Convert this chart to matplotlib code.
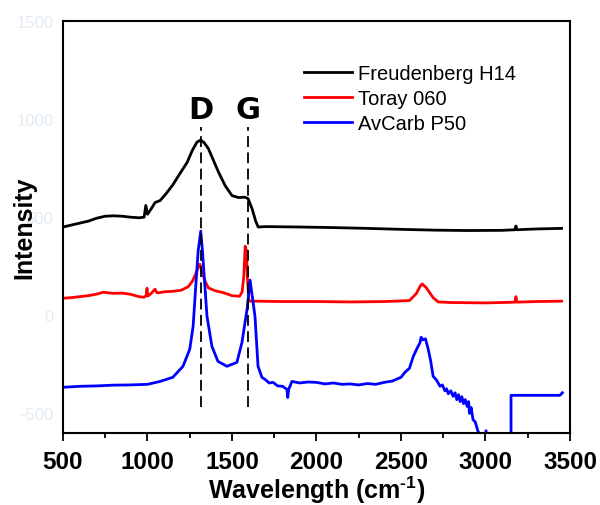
import numpy as np
import matplotlib
matplotlib.use('Agg')
import matplotlib.pyplot as plt

plt.rcParams['font.family'] = ['Liberation Sans', 'DejaVu Sans']
plt.rcParams['mathtext.fontset'] = 'custom'
plt.rcParams['mathtext.rm'] = 'Liberation Sans:bold'
plt.rcParams['mathtext.bf'] = 'Liberation Sans:bold'
plt.rcParams['axes.unicode_minus'] = False

# Freudenberg H14
x_black = [500, 550, 600, 650, 700, 750, 800, 850, 900, 950, 980, 990, 1000, 1020, 1045,
           1075, 1110, 1150, 1190, 1235, 1265, 1293, 1315, 1335, 1360, 1390, 1420, 1460,
           1500, 1540, 1575, 1595, 1620, 1640, 1655, 1700, 1900, 2100, 2300, 2500, 2700,
           2900, 3100, 3175, 3180, 3185, 3300, 3450]
y_black = [450, 460, 470, 480, 495, 505, 507, 505, 500, 497, 500, 560, 515, 540, 575,
           585, 620, 665, 720, 780, 840, 883, 893, 880, 850, 790, 730, 660,
           610, 600, 602, 595, 540, 480, 450, 452, 450, 447, 443, 438, 434,
           432, 433, 436, 455, 436, 440, 443]

# Toray 060
x_red = [500, 550, 600, 650, 700, 740, 760, 800, 850, 900, 950, 980, 992, 997, 1002,
         1020, 1045, 1055, 1070, 1100, 1150, 1200, 1240, 1265, 1285, 1300, 1310, 1320,
         1340, 1360, 1400, 1450, 1500, 1545, 1560, 1570, 1578, 1585, 1592, 1600, 1650,
         1800, 2000, 2200, 2400, 2550, 2590, 2615, 2625, 2650, 2690, 2720, 2800, 3000,
         3175, 3180, 3185, 3300, 3450]
y_red = [87, 90, 95, 100, 108, 118, 115, 112, 113, 107, 95, 92, 100, 138, 98,
         110, 133, 115, 115, 120, 122, 128, 145, 173, 210, 245, 260, 230,
         175, 140, 125, 115, 100, 97, 120, 200, 352, 330, 180, 72, 72,
         70, 70, 68, 70, 75, 110, 150, 160, 140, 90, 68, 65, 63,
         67, 95, 67, 70, 72]

# AvCarb P50 (gaps where the trace leaves the plot)
x_blue = [500, 600, 700, 800, 900, 1000, 1075, 1150, 1210, 1250, 1270, 1287, 1300, 1315,
          1325, 1352, 1381, 1417, 1470, 1529, 1559, 1589, 1607, 1636, 1654, 1677, 1700,
          1720, 1743, 1770, 1800, 1825, 1830, 1835, 1855, 1900, 1950, 2000, 2050, 2100,
          2150, 2200, 2250, 2300, 2350, 2400, 2450, 2500, 2524, 2550, 2573, 2600, 2612,
          2619, 2630, 2645, 2661, 2675, 2690, 2710, 2731, 2745, 2760, 2770, 2780, 2795,
          2808, 2820, 2830, 2840, 2850, 2860, 2870, 2880, 2891, 2900, 2905, 2915, 2926,
          2940, 2955, 2967, 2980, 3000, 3003, 3006, 3010, 3151, 3151, 3300, 3440, 3455]
y_blue = [-367, -362, -360, -356, -355, -352, -337, -316, -260, -173, -56, 168, 330, 429,
          330, -5, -158, -235, -260, -240, -138, 30, 179, -5, -260, -316, -330,
          -345, -342, -360, -362, -378, -419, -378, -337, -345, -340, -342, -350, -345,
          -352, -350, -355, -348, -352, -342, -335, -316, -290, -270, -209, -160, -140,
          -112, -125, -120, -173, -230, -311, -330, -362, -355, -385, -375, -400, -385,
          -413, -395, -430, -405, -440, -415, -450, -430, -464, -440, -500, -470, -531,
          -545, -590, -610, np.nan, np.nan, -590, -620, np.nan, -650, -408, -408, -408, -395]

d_pos = 1317
g_pos = 1592
labels = ['Freudenberg H14', 'Toray 060', 'AvCarb P50']

fig = plt.figure(figsize=(6, 5.06), dpi=100)
ax = fig.add_axes([0.105, 0.1423, 0.845, 0.8142])

ax.plot(x_black, y_black, color='black', lw=2, label=labels[0])
ax.plot(x_red, y_red, color='red', lw=2, label=labels[1])
ax.plot(x_blue, y_blue, color='blue', lw=2, label=labels[2])

for xp in (d_pos, g_pos):
    ax.plot([xp, xp], [-470, 962], color='black', lw=1.3, ls=(0, (6, 3)))
ax.text(d_pos, 1008, 'D', ha='center', va='baseline', fontsize=22,
        fontweight='bold', family='DejaVu Sans')
ax.text(g_pos, 1008, 'G', ha='center', va='baseline', fontsize=22,
        fontweight='bold', family='DejaVu Sans')

ax.set_xlim(500, 3500)
ax.set_ylim(-600, 1500)
ax.set_xticks([500, 1000, 1500, 2000, 2500, 3000, 3500])
ax.set_xticks([750, 1250, 1750, 2250, 2750, 3250], minor=True)
ax.set_yticks([-500, 0, 500, 1000, 1500])
ax.tick_params(axis='x', which='major', length=6, width=1.3, labelsize=17.5, pad=6)
ax.tick_params(axis='x', which='minor', length=3.5, width=1.3)
ax.tick_params(axis='y', length=0, labelsize=12, labelcolor='#e2eaf2', pad=7)
for t in ax.get_xticklabels():
    t.set_fontweight('bold')
for s in ax.spines.values():
    s.set_linewidth(1.5)

ax.set_xlabel(r'Wavelength (cm$^{\text{-1}}$)', fontsize=18, fontweight='bold', labelpad=1)
ax.set_ylabel('Intensity', fontsize=18, fontweight='bold')
ax.yaxis.set_label_coords(-0.052, 0.5)

ax.legend(loc='upper left', bbox_to_anchor=(0.455, 0.92), frameon=False, fontsize=14.5,
          handlelength=2.4, handletextpad=0.3, labelspacing=0.3, borderpad=0)

fig.savefig('out.png', dpi=100, facecolor='white')
